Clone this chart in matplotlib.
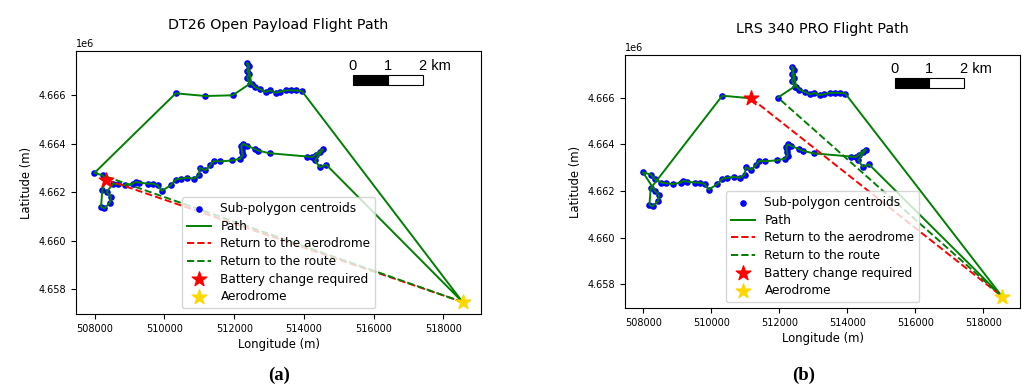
import numpy as np
import matplotlib.pyplot as plt
from matplotlib.patches import Rectangle

# aerodrome (UTM metres)
aero_x, aero_y = 518550, 4657480

# upper route, east -> west (incl. the spike)
top_x = [513940, 513770, 513629, 513487, 513317, 513184, 513034, 512901, 512751, 512589,
         512500, 512371, 512428, 512371, 512428, 512371, 512448, 511957, 511173, 510323]
top_y = [4666176, 4666204, 4666204, 4666204, 4666147, 4666106, 4666204, 4666135, 4666245, 4666339,
         4666470, 4667333, 4667198, 4666993, 4666858, 4666720, 4666474, 4666000, 4665971, 4666082]

# lower route, east -> west
low_x = [514640, 514452, 514320, 514544, 514450, 514337, 514241, 514099, 513014, 512683,
         512589, 512355, 512258, 512200, 512212, 512230, 512241, 512164, 511929, 511578,
         511408, 511314, 511173, 511011, 510983, 510841, 510654, 510465, 510323, 510181,
         509918, 509805, 509663, 509521, 509283, 509180, 509096, 508859, 508671, 508530]
low_y = [4663138, 4663040, 4663314, 4663776, 4663680, 4663560, 4663450, 4663477, 4663612, 4663723,
         4663792, 4663927, 4663997, 4663900, 4663792, 4663650, 4663520, 4663383, 4663314, 4663273,
         4663286, 4663110, 4662905, 4663016, 4662700, 4662566, 4662607, 4662566, 4662525, 4662292,
         4662059, 4662292, 4662360, 4662360, 4662402, 4662430, 4662360, 4662292, 4662333, 4662360]

# western cluster
clu_x = [507990, 508230, 508330, 508218, 508180, 508275, 508434, 508462, 508340]
clu_y = [4662800, 4662700, 4662520, 4662116, 4661405, 4661340, 4661568, 4661813, 4662018]
order_a = [8, 7, 6, 5, 4, 3, 2, 1, 0]
order_b = [2, 1, 0, 8, 7, 6, 5, 4, 3]

# battery change (index in clu for a, index in top for b)
bat_a, resume_a = 2, 1
bat_b, resume_b = 18, 17

cen_x = top_x + low_x + clu_x
cen_y = top_y + low_y + clu_y

fig = plt.figure(figsize=(10.22, 3.89), dpi=100)
ax_a = fig.add_axes([76 / 1022, 75 / 389, 405 / 1022, 263 / 389])
ax_b = fig.add_axes([625 / 1022, 81 / 389, 395 / 1022, 253 / 389])


def scalebar(ax):
    x0, x1, xm = 0.683, 0.858, 0.7705
    y0, h = 0.871, 0.038
    ax.add_patch(Rectangle((x0, y0), xm - x0, h, transform=ax.transAxes,
                           facecolor='black', edgecolor='black', lw=0.8, zorder=6))
    ax.add_patch(Rectangle((xm, y0), x1 - xm, h, transform=ax.transAxes,
                           facecolor='white', edgecolor='black', lw=0.8, zorder=6))
    ty = 0.943
    kw = dict(xycoords='axes fraction', textcoords='offset points', va='center',
              fontsize=10.5, family='Liberation Sans', zorder=6)
    ax.annotate('0', xy=(x0, ty), xytext=(0, 0), ha='center', **kw)
    ax.annotate('1', xy=(xm, ty), xytext=(0, 0), ha='center', **kw)
    ax.annotate('2 km', xy=(x1, ty), xytext=(-2.9, 0), ha='left', **kw)


def draw(ax, px, py, segs, bat, resume, title):
    ax.scatter(cen_x, cen_y, s=14, color='blue', zorder=2, label='Sub-polygon centroids')
    for i, (sx, sy) in enumerate(segs):
        ax.plot(sx, sy, color='green', lw=1.4, zorder=3, label='Path' if i == 0 else None)
    ax.plot([bat[0], aero_x], [bat[1], aero_y], '--', color='red', lw=1.4, zorder=4,
            label='Return to the aerodrome')
    ax.plot([aero_x, resume[0]], [aero_y, resume[1]], '--', color='green', lw=1.4, zorder=4,
            label='Return to the route')
    ax.scatter([bat[0]], [bat[1]], marker='*', s=120, color='red', zorder=5,
               label='Battery change required')
    ax.scatter([aero_x], [aero_y], marker='*', s=120, color='gold', zorder=5, label='Aerodrome')
    ax.set_title(title, fontsize=10.3, pad=16)
    ax.set_xlabel('Longitude (m)', fontsize=8.4, labelpad=3)
    ax.set_ylabel('Latitude (m)', fontsize=8.4)
    ax.tick_params(labelsize=7)
    ax.yaxis.get_offset_text().set_fontsize(7)
    ax.legend(loc='lower center', fontsize=8.7, labelspacing=0.38, handlelength=2.0,
              borderpad=0.4)
    scalebar(ax)


# panel (a): single continuous path
pa_x = [aero_x] + low_x + [clu_x[i] for i in order_a] + top_x[::-1] + [aero_x]
pa_y = [aero_y] + low_y + [clu_y[i] for i in order_a] + top_y[::-1] + [aero_y]
draw(ax_a, pa_x, pa_y, [(pa_x, pa_y)],
     (clu_x[bat_a], clu_y[bat_a]), (clu_x[resume_a], clu_y[resume_a]),
     'DT26 Open Payload Flight Path')

# panel (b): path interrupted at the battery change
b1_x = [aero_x] + low_x + [clu_x[i] for i in order_b] + [top_x[19], top_x[18]]
b1_y = [aero_y] + low_y + [clu_y[i] for i in order_b] + [top_y[19], top_y[18]]
b2_x = top_x[17::-1] + [aero_x]
b2_y = top_y[17::-1] + [aero_y]
draw(ax_b, b1_x, b1_y, [(b1_x, b1_y), (b2_x, b2_y)],
     (top_x[bat_b], top_y[bat_b]), (top_x[resume_b], top_y[resume_b]),
     'LRS 340 PRO Flight Path')

fig.text(279 / 1022, 1 - 375 / 389, '(a)', ha='center', va='center', fontsize=13.5,
         fontweight='bold', family='Liberation Serif')
fig.text(804 / 1022, 1 - 375 / 389, '(b)', ha='center', va='center', fontsize=13.5,
         fontweight='bold', family='Liberation Serif')

fig.savefig('out.png', dpi=100)
